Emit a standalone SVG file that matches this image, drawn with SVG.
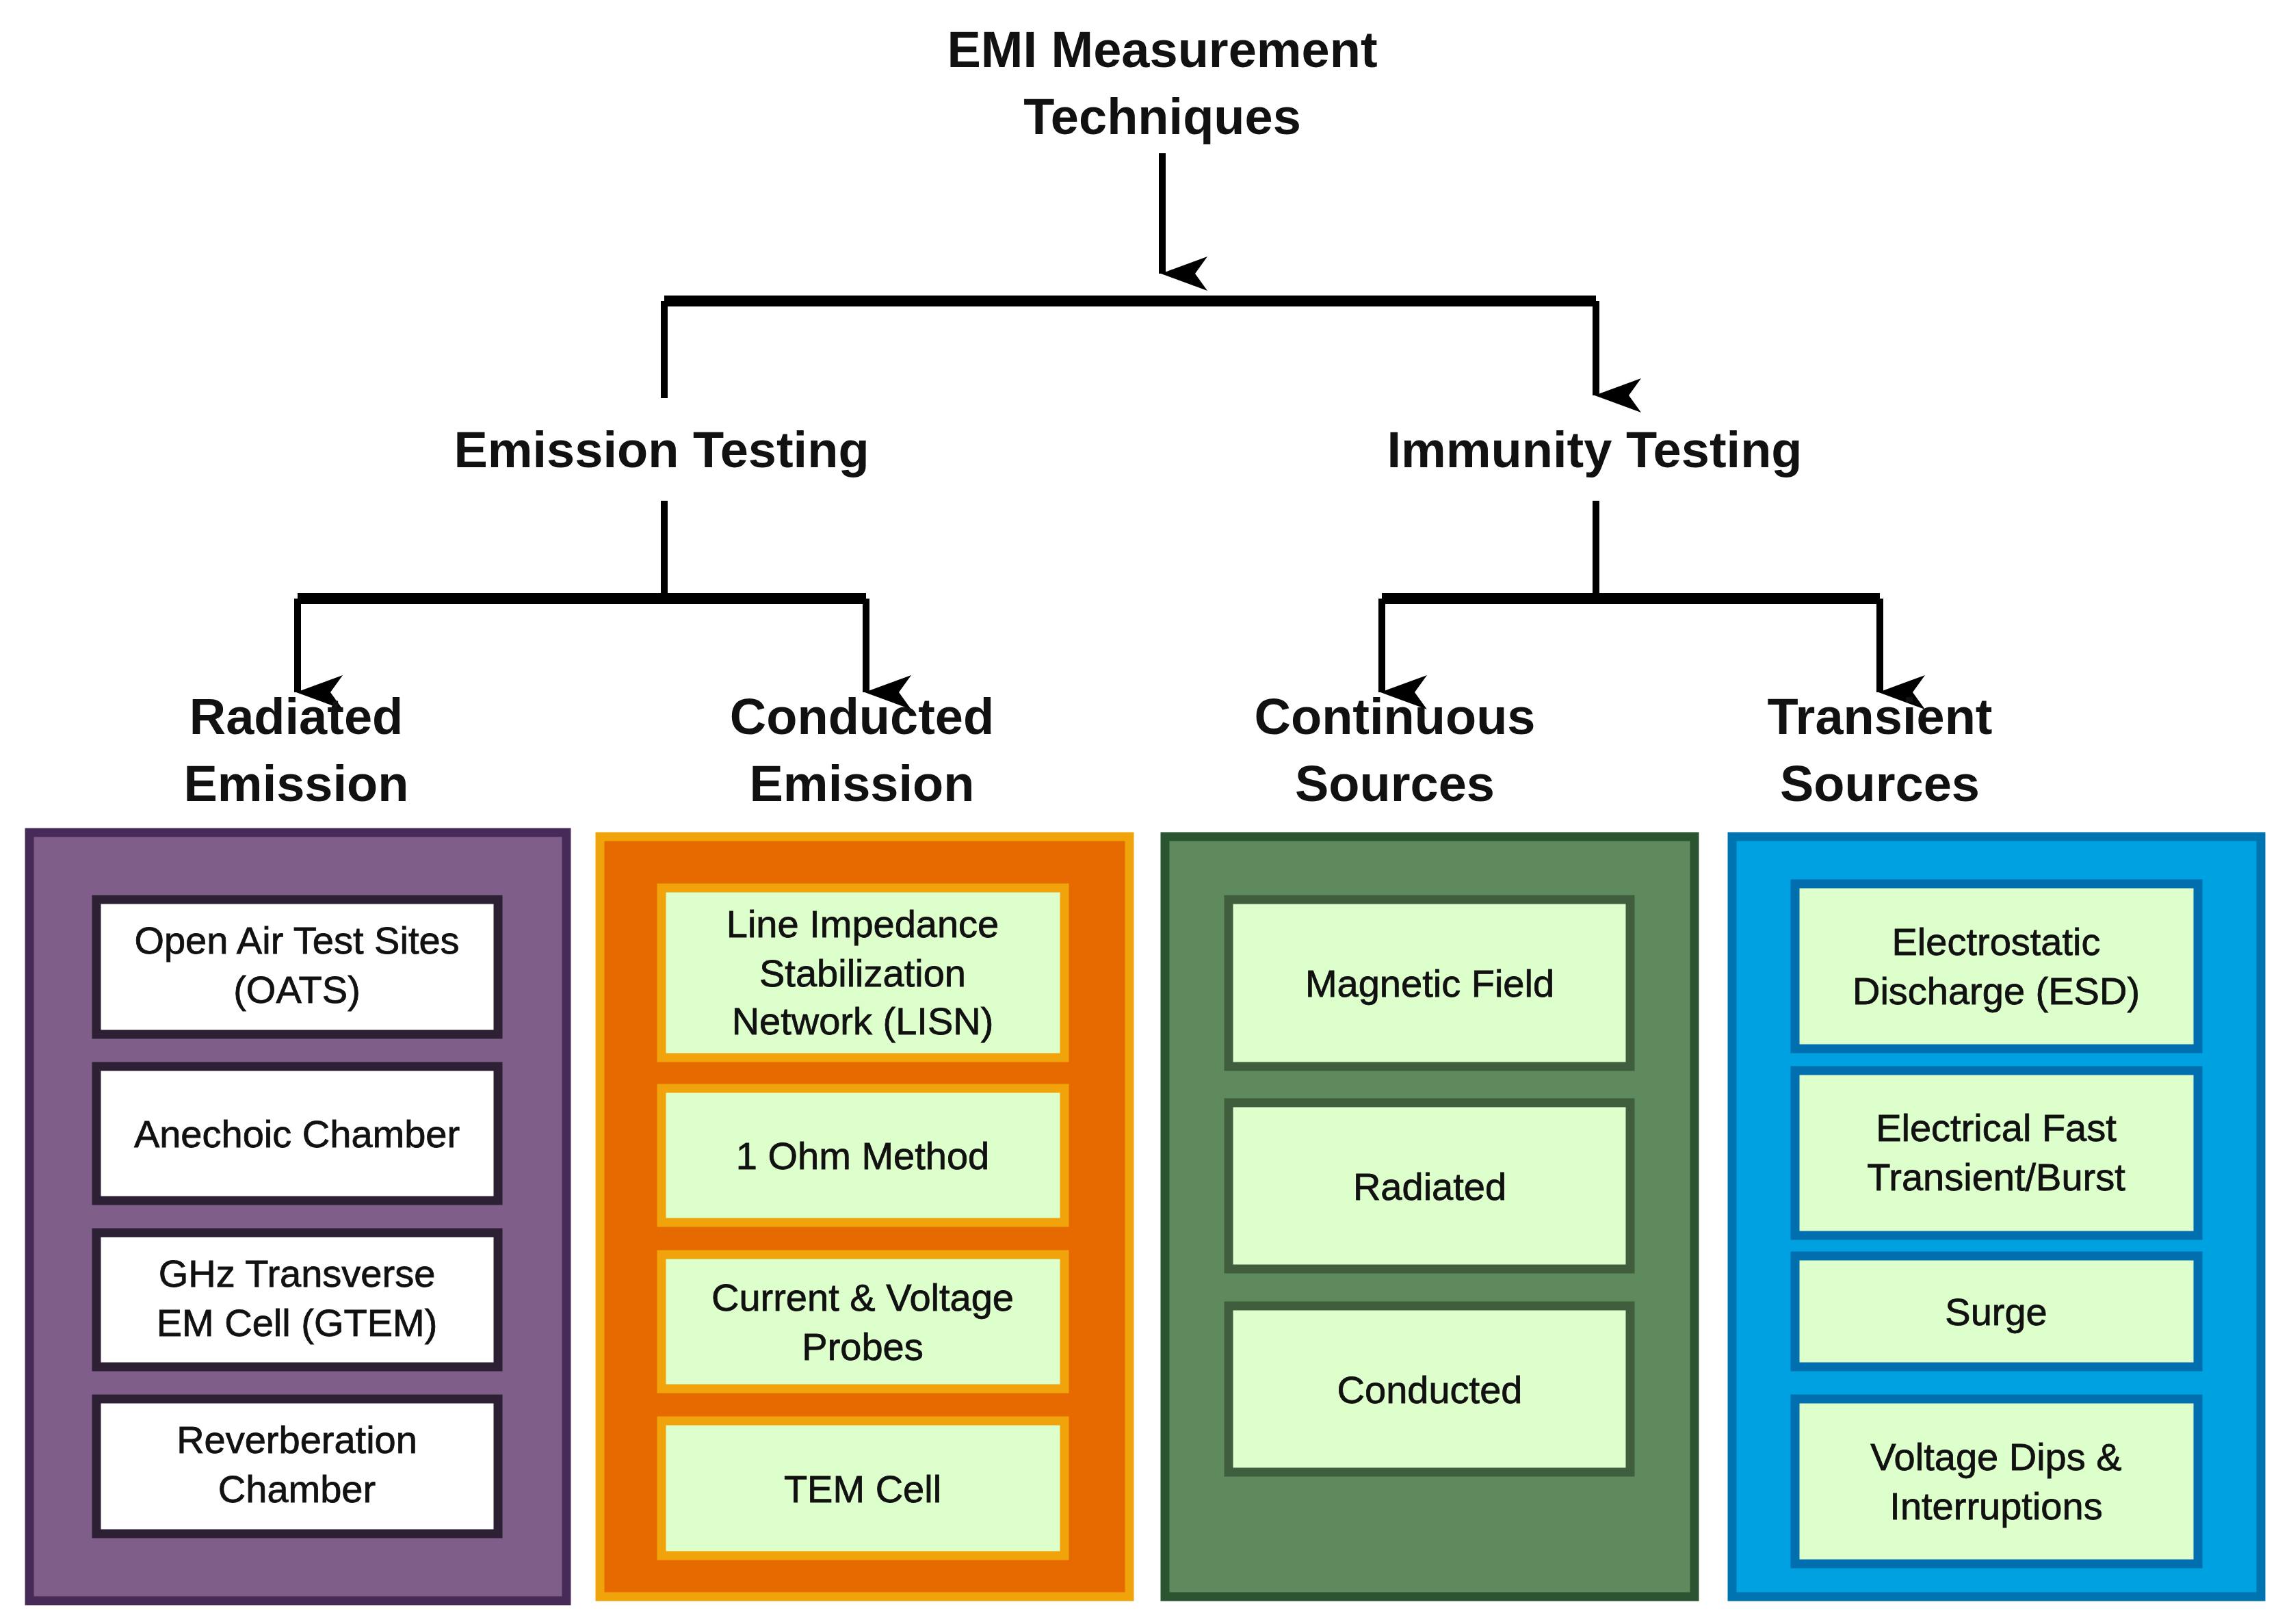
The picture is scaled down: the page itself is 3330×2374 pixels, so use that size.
<svg xmlns="http://www.w3.org/2000/svg" width="3330" height="2374" viewBox="0 0 3330 2374">
<style>
.h{font-family:"Liberation Sans",Arial,sans-serif;font-weight:bold;font-size:74px;fill:#111;text-anchor:middle}
.t{font-family:"Liberation Sans",Arial,sans-serif;font-size:56px;fill:#111;text-anchor:middle;stroke:#111;stroke-width:0.8}
.c{fill:none;stroke:#000;stroke-width:10}
.hl{fill:none;stroke:#000;stroke-width:16}
</style>
<defs>
<marker id="a" markerUnits="userSpaceOnUse" markerWidth="50" markerHeight="70" refX="25" refY="66" orient="auto-start-reverse" viewBox="0 0 50 70">
<path d="M0,0 L25,18 L50,0 L25,68 Z" fill="#000"/>
</marker>
</defs>
<rect width="3330" height="2374" fill="#fff"/>
<g id="connectors">
<path class="c" d="M1699,224 V400" marker-end="url(#a)"/>
<path class="hl" d="M971,440 H2333"/>
<path class="c" d="M971,440 V582"/>
<path class="c" d="M2333,440 V578" marker-end="url(#a)"/>
<path class="c" d="M971,732 V875"/>
<path class="hl" d="M435,875 H1266"/>
<path class="c" d="M435,875 V1012" marker-end="url(#a)"/>
<path class="c" d="M1266,875 V1012" marker-end="url(#a)"/>
<path class="c" d="M2333,732 V875"/>
<path class="hl" d="M2020,875 H2748"/>
<path class="c" d="M2020,875 V1012" marker-end="url(#a)"/>
<path class="c" d="M2748,875 V1012" marker-end="url(#a)"/>
</g>
<g id="root"><text class="h" x="1699" y="98">EMI Measurement</text><text class="h" x="1699" y="196">Techniques</text></g>
<g id="emission"><text class="h" x="967" y="683">Emission Testing</text></g>
<g id="immunity"><text class="h" x="2331" y="683">Immunity Testing</text></g>
<g id="radiated-label"><text class="h" x="433" y="1073">Radiated</text><text class="h" x="433" y="1171">Emission</text></g>
<g id="conducted-label"><text class="h" x="1260" y="1073">Conducted</text><text class="h" x="1260" y="1171">Emission</text></g>
<g id="continuous-label"><text class="h" x="2039" y="1073">Continuous</text><text class="h" x="2039" y="1171">Sources</text></g>
<g id="transient-label"><text class="h" x="2748" y="1073">Transient</text><text class="h" x="2748" y="1171">Sources</text></g>

<g id="radiated">
<rect x="43" y="1217" width="785" height="1123" fill="#7f5f8a" stroke="#472a57" stroke-width="13"/>
<g fill="#fff" stroke="#2e2034" stroke-width="13">
<rect x="141" y="1315" width="587" height="197"/><rect x="141" y="1559" width="587" height="196"/>
<rect x="141" y="1802" width="587" height="196"/><rect x="141" y="2045" width="587" height="197"/>
</g>
<text class="t" x="434" y="1394">Open Air Test Sites</text><text class="t" x="434" y="1466">(OATS)</text>
<text class="t" x="434" y="1677">Anechoic Chamber</text>
<text class="t" x="434" y="1881">GHz Transverse</text><text class="t" x="434" y="1953">EM Cell (GTEM)</text>
<text class="t" x="434" y="2124">Reverberation</text><text class="t" x="434" y="2196">Chamber</text>
</g>
<g id="conducted">
<rect x="877" y="1223" width="774" height="1111" fill="#e66a00" stroke="#f0a30a" stroke-width="13"/>
<g fill="#ddffcc" stroke="#f0a30a" stroke-width="13">
<rect x="967" y="1298" width="589" height="248"/><rect x="967" y="1591" width="589" height="196"/>
<rect x="967" y="1834" width="589" height="196"/><rect x="967" y="2077" width="589" height="197"/>
</g>
<text class="t" x="1261" y="1370">Line Impedance</text><text class="t" x="1261" y="1442">Stabilization</text><text class="t" x="1261" y="1512">Network (LISN)</text>
<text class="t" x="1261" y="1709">1 Ohm Method</text>
<text class="t" x="1261" y="1916">Current &amp; Voltage</text><text class="t" x="1261" y="1988">Probes</text>
<text class="t" x="1261" y="2196">TEM Cell</text>
</g>
<g id="continuous">
<rect x="1703" y="1223" width="774" height="1111" fill="#5e8a5e" stroke="#2b5430" stroke-width="13"/>
<g fill="#ddffcc" stroke="#3e5e3e" stroke-width="13">
<rect x="1796" y="1315" width="587" height="244"/><rect x="1796" y="1612" width="587" height="243"/>
<rect x="1796" y="1909" width="587" height="243"/>
</g>
<text class="t" x="2090" y="1457">Magnetic Field</text>
<text class="t" x="2090" y="1754">Radiated</text>
<text class="t" x="2090" y="2051">Conducted</text>
</g>
<g id="transient">
<rect x="2532" y="1223" width="773" height="1111" fill="#00a1e0" stroke="#0074b0" stroke-width="13"/>
<g fill="#ddffcc" stroke="#006eaf" stroke-width="13">
<rect x="2624" y="1292" width="589" height="241"/><rect x="2624" y="1565" width="589" height="241"/>
<rect x="2624" y="1836" width="589" height="162"/><rect x="2624" y="2045" width="589" height="241"/>
</g>
<text class="t" x="2918" y="1396">Electrostatic</text><text class="t" x="2918" y="1468">Discharge (ESD)</text>
<text class="t" x="2918" y="1668">Electrical Fast</text><text class="t" x="2918" y="1740">Transient/Burst</text>
<text class="t" x="2918" y="1937">Surge</text>
<text class="t" x="2918" y="2149">Voltage Dips &amp;</text><text class="t" x="2918" y="2221">Interruptions</text>
</g>
</svg>
